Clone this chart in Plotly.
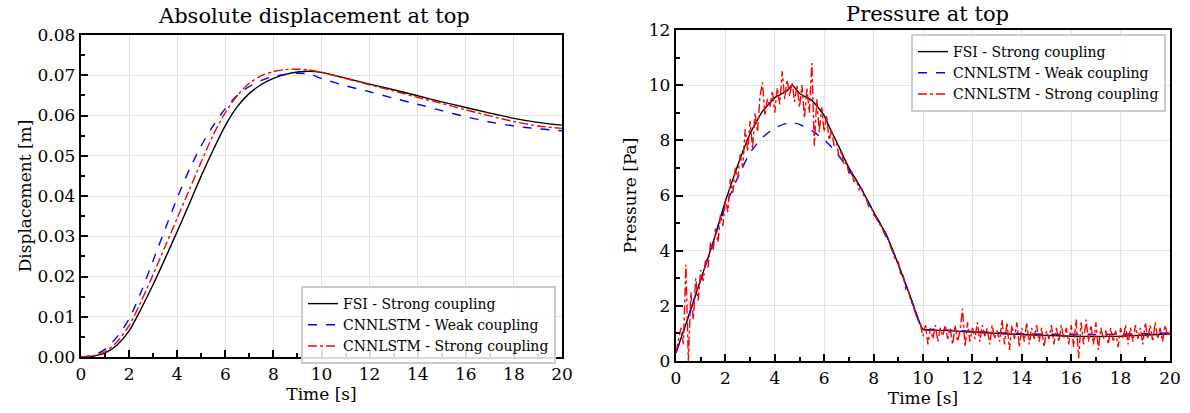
import plotly.graph_objects as go

# ---------------- Data: displacement ----------------
disp_t = [0, 0.5, 1, 1.5, 2, 2.5, 3, 3.5, 4, 4.5, 5, 5.5, 6, 6.5, 7, 7.5, 8, 8.5, 9, 9.5,
          10, 11, 12, 13, 14, 15, 16, 17, 18, 19, 20]
disp_fsi = [0, 0.0002, 0.001, 0.003, 0.0065, 0.012, 0.018, 0.0245, 0.0312, 0.038, 0.045,
            0.0515, 0.0575, 0.0622, 0.0655, 0.0677, 0.0692, 0.0702, 0.0708, 0.071,
            0.0707, 0.0693, 0.0678, 0.0664, 0.0649, 0.0634, 0.062, 0.0606, 0.0593, 0.0583, 0.0576]
disp_weak = [0, 0.0004, 0.0019, 0.005, 0.0095, 0.0162, 0.024, 0.0318, 0.0395, 0.0465, 0.0525,
             0.0575, 0.0617, 0.065, 0.0672, 0.0687, 0.0697, 0.0702, 0.0705, 0.0703,
             0.0692, 0.0674, 0.0659, 0.0643, 0.0628, 0.0612, 0.0597, 0.0584, 0.0574, 0.0567, 0.0562]
disp_strong = [0, 0.0003, 0.0013, 0.0038, 0.0078, 0.0138, 0.0205, 0.0275, 0.0345, 0.0415, 0.0485,
               0.0552, 0.0607, 0.065, 0.068, 0.0699, 0.0709, 0.0714, 0.0715, 0.0713,
               0.0707, 0.0692, 0.0676, 0.0661, 0.0645, 0.063, 0.0614, 0.0599, 0.0585, 0.0574, 0.0568]

# ---------------- Data: pressure ----------------
pres_t = [0, 0.5, 1, 1.5, 2, 2.5, 3, 3.5, 4, 4.5, 4.7, 5, 5.5, 6, 6.25, 6.5, 7, 7.5, 8, 8.5,
          9, 9.5, 10, 10.5, 11, 12, 13, 14, 15, 16, 17, 18, 19, 20]
pres_fsi = [0.3, 1.6, 2.95, 4.3, 5.8, 7.1, 8.25, 9.05, 9.55, 9.8, 10.0, 9.7, 9.45, 8.9, 8.4, 7.95,
            7.0, 6.25, 5.4, 4.6, 3.5, 2.3, 1.15, 1.12, 1.1, 1.05, 1.0, 0.96, 0.93, 0.9, 0.89, 0.9, 0.94, 0.98]
pres_weak = [0.3, 1.6, 2.95, 4.3, 5.6, 6.65, 7.55, 8.1, 8.45, 8.62, 8.64, 8.58, 8.35, 8.02, 7.8,
             7.55, 6.92, 6.25, 5.4, 4.6, 3.5, 2.3, 1.15, 1.15, 1.12, 1.08, 1.03, 0.99, 0.97, 0.96,
             0.96, 0.97, 0.99, 1.02]

strong_t = [i / 10 for i in range(201)]
pres_strong = [
    0.3, 0.8, 1.2, 0.6, 3.5, 0.0, 2.5, 1.5, 3.0, 2.2,
    3.3, 2.9, 3.7, 3.4, 4.3, 4.0, 4.8, 4.3, 5.3, 4.9,
    5.9, 5.4, 6.6, 6.1, 7.0, 6.6, 7.5, 7.0, 8.4, 7.6,
    8.7, 7.7, 9.0, 8.3, 9.6, 10.1, 8.9, 9.5, 9.2, 9.8,
    9.0, 9.9, 9.3, 10.5, 9.5, 10.2, 9.6, 10.1, 9.4, 10.0,
    9.2, 10.0, 8.8, 9.9, 9.0, 10.8, 7.8, 9.5, 8.3, 9.2,
    8.3, 8.9, 8.0, 8.4, 7.8, 7.9, 7.4, 7.6, 7.1, 7.2,
    6.8, 6.9, 6.5, 6.6, 6.2, 6.3, 6.0, 5.9, 5.6, 5.6,
    5.3, 5.2, 5.0, 4.9, 4.7, 4.5, 4.4, 4.1, 3.9, 3.6,
    3.6, 3.1, 3.1, 2.6, 2.6, 2.2, 2.0, 1.7, 1.5, 1.3,
    0.9,
    1.3, 0.6, 1.2, 0.8, 1.3, 0.7, 1.2, 0.9, 1.3, 0.8,
    1.2, 0.6, 1.3, 0.7, 1.1, 1.9, 0.5, 1.4, 0.7, 1.2,
    0.8, 1.4, 0.7, 1.3, 0.9, 1.2, 0.6, 1.3, 0.8, 1.1,
    0.7, 1.5, 0.6, 1.4, 0.4, 1.3, 0.8, 1.4, 0.5, 1.2,
    0.7, 1.4, 0.6, 1.2, 0.8, 1.3, 0.7, 1.2, 0.5, 1.1,
    0.8, 1.3, 0.6, 1.2, 0.7, 1.3, 0.8, 1.2, 0.6, 1.3,
    0.5, 1.5, 0.1, 1.4, 0.6, 1.5, 0.7, 1.3, 0.6, 1.4,
    0.4, 1.2, 0.8, 1.1, 0.6, 1.2, 0.7, 1.1, 0.5, 1.2,
    0.8, 1.3, 0.6, 1.2, 0.7, 1.3, 0.8, 1.2, 0.6, 1.4,
    0.8, 1.3, 0.7, 1.4, 0.8, 1.2, 0.7, 1.3, 0.9, 1.1,
]

names = ["FSI - Strong coupling", "CNNLSTM - Weak coupling", "CNNLSTM - Strong coupling"]
colors = ["black", "#0000ff", "#ff0000"]
dashes = ["solid", "dash", "dashdot"]

FONT = "DejaVu Serif"

fig = go.Figure()

# left plot
for y, nm, c, d in zip([disp_fsi, disp_weak, disp_strong], names, colors, dashes):
    fig.add_trace(go.Scatter(x=disp_t, y=y, name=nm, mode="lines",
                             line=dict(color=c, dash=d, width=1.4, shape="spline", smoothing=0.8),
                             xaxis="x", yaxis="y", legend="legend"))

# right plot
fig.add_trace(go.Scatter(x=pres_t, y=pres_fsi, name=names[0], mode="lines",
                         line=dict(color=colors[0], width=1.4, shape="spline", smoothing=0.4),
                         xaxis="x2", yaxis="y2", legend="legend2"))
fig.add_trace(go.Scatter(x=pres_t, y=pres_weak, name=names[1], mode="lines",
                         line=dict(color=colors[1], dash="dash", width=1.4, shape="spline", smoothing=0.6),
                         xaxis="x2", yaxis="y2", legend="legend2"))
fig.add_trace(go.Scatter(x=strong_t, y=pres_strong, name=names[2], mode="lines",
                         line=dict(color=colors[2], dash="dashdot", width=1.4),
                         xaxis="x2", yaxis="y2", legend="legend2"))

W, H = 1190, 413
def dom_x(a, b):
    return [a / W, b / W]
def dom_y(top, bot):
    return [1 - bot / H, 1 - top / H]

TICK = 17
AX = 17
LEG = 14
axis_common = dict(
    showline=True, linecolor="black", linewidth=2.4, mirror=True, automargin=False,
    ticks="inside", ticklen=7, tickwidth=2, tickcolor="black",
    showgrid=True, gridcolor="#e3e3e3", gridwidth=1, zeroline=False,
    tickfont=dict(family=FONT, size=TICK, color="black"),
    minor=dict(ticks="inside", ticklen=4, tickwidth=1.5, tickcolor="black", showgrid=False),
)

fig.update_layout(
    width=W, height=H, margin=dict(l=0, r=0, t=0, b=0),
    paper_bgcolor="white", plot_bgcolor="white",
    font=dict(family=FONT, color="black"),
    xaxis=dict(domain=dom_x(81, 562), range=[0, 20], dtick=2, anchor="y",
               title=dict(text="Time [s]", font=dict(family=FONT, size=AX), standoff=0),
               **{**axis_common, "minor": dict(axis_common["minor"], dtick=1)}),
    yaxis=dict(domain=dom_y(35, 357), range=[0, 0.08], dtick=0.01, tickformat=".2f", anchor="x",
               title=dict(text="Displacement [m]", font=dict(family=FONT, size=AX), standoff=2),
               **{**axis_common, "minor": dict(axis_common["minor"], dtick=0.005)}),
    xaxis2=dict(domain=dom_x(676, 1170), range=[0, 20], dtick=2, anchor="y2",
                title=dict(text="Time [s]", font=dict(family=FONT, size=AX), standoff=0),
                **{**axis_common, "minor": dict(axis_common["minor"], dtick=1)}),
    yaxis2=dict(domain=dom_y(30, 361), range=[0, 12], dtick=2, anchor="x2",
                title=dict(text="Pressure [Pa]", font=dict(family=FONT, size=AX), standoff=8),
                **{**axis_common, "minor": dict(axis_common["minor"], dtick=1)}),
    legend=dict(x=556 / W, y=1 - 286 / H, xanchor="right", yanchor="top",
                bgcolor="rgba(255,255,255,0.85)", bordercolor="#cccccc", borderwidth=2,
                font=dict(family=FONT, size=LEG), tracegroupgap=0, itemwidth=30),
    legend2=dict(x=1166 / W, y=1 - 34 / H, xanchor="right", yanchor="top",
                 bgcolor="rgba(255,255,255,0.85)", bordercolor="#cccccc", borderwidth=2,
                 font=dict(family=FONT, size=LEG), tracegroupgap=0, itemwidth=30),
    annotations=[
        dict(text="Absolute displacement at top", x=314 / W, y=1 - 2 / H,
             xref="paper", yref="paper", xanchor="center", yanchor="top", showarrow=False,
             font=dict(family=FONT, size=21, color="black")),
        dict(text="Pressure at top", x=927 / W, y=1 - 0 / H,
             xref="paper", yref="paper", xanchor="center", yanchor="top", showarrow=False,
             font=dict(family=FONT, size=21, color="black")),
    ],
)

fig.write_html("out.html")
